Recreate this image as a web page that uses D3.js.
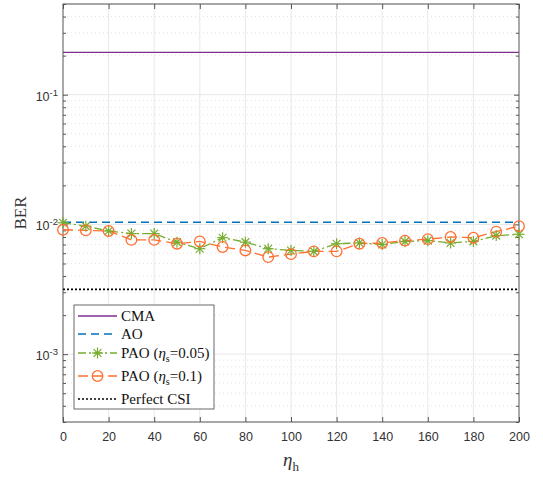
<!DOCTYPE html>
<html><head><meta charset="utf-8">
<script src="https://cdn.jsdelivr.net/npm/d3@7"></script>
<style>body{margin:0;background:#fff}svg{display:block}</style>
</head><body>
<svg id="c" width="543" height="483"></svg>
<script>
const etaH = [0,10,20,30,40,50,60,70,80,90,100,110,120,130,140,150,160,170,180,190,200];
const cma = 0.212;
const ao = 0.0104;
const perfectCSI = 0.00316;
const pao005 = [0.0103,0.0097,0.0089,0.0085,0.0085,0.0073,0.0065,0.0079,0.0073,0.0065,0.0063,0.0062,0.0071,0.0072,0.0070,0.0074,0.0075,0.0072,0.0074,0.0082,0.0084];
const pao01 = [0.0091,0.0090,0.0089,0.0076,0.0076,0.0071,0.0074,0.0067,0.0063,0.0056,0.0059,0.0062,0.0062,0.0071,0.0072,0.0075,0.0077,0.0080,0.0079,0.0088,0.0097];
const xTicks = [0,20,40,60,80,100,120,140,160,180,200];
const yTickExp = [-1,-2,-3];

const svg = d3.select("#c");
const L=63,R=519,T=4,B=422;
const x = d3.scaleLinear().domain([0,200]).range([L,R]);
const y = d3.scaleLog().domain([3e-4,0.5]).range([B,T]);
const axisCol="#555", gridCol="#e8e8e8";
const purple="#7E2F8E", blue="#0072BD", green="#77AC30", orange="#FF6F30";

// minor grid
const minors=[];
[1e-4,1e-3,1e-2,1e-1].forEach(d=>{for(let k=2;k<=9;k++){const v=d*k; if(v>=3e-4&&v<=0.5) minors.push(v);}});
svg.append("g").selectAll("line").data(minors).join("line")
  .attr("x1",L).attr("x2",R).attr("y1",d=>y(d)).attr("y2",d=>y(d))
  .attr("stroke","#dcdcdc").attr("stroke-width",0.8).attr("stroke-dasharray","1,3");
// major grid
svg.append("g").selectAll("line").data(yTickExp).join("line")
  .attr("x1",L).attr("x2",R).attr("y1",d=>y(Math.pow(10,d))).attr("y2",d=>y(Math.pow(10,d)))
  .attr("stroke",gridCol).attr("stroke-width",1);
svg.append("g").selectAll("line").data(xTicks.slice(1,-1)).join("line")
  .attr("x1",d=>x(d)).attr("x2",d=>x(d)).attr("y1",T).attr("y2",B)
  .attr("stroke",gridCol).attr("stroke-width",1);

// axes
const xa = svg.append("g").attr("transform",`translate(0,${B})`)
  .call(d3.axisBottom(x).tickValues(xTicks).tickSizeInner(-5).tickSizeOuter(0).tickPadding(10));
const xt = svg.append("g").attr("transform",`translate(0,${T})`)
  .call(d3.axisTop(x).tickValues(xTicks).tickSizeInner(-5).tickSizeOuter(0).tickFormat(""));
const ya = svg.append("g").attr("transform",`translate(${L},0)`)
  .call(d3.axisLeft(y).tickValues(yTickExp.map(e=>Math.pow(10,e))).tickSizeInner(-5).tickSizeOuter(0).tickFormat(""));
const yr = svg.append("g").attr("transform",`translate(${R},0)`)
  .call(d3.axisRight(y).tickValues(yTickExp.map(e=>Math.pow(10,e))).tickSizeInner(-5).tickSizeOuter(0).tickFormat(""));
const yam = svg.append("g").attr("transform",`translate(${L},0)`)
  .call(d3.axisLeft(y).tickValues(minors).tickSizeInner(-3).tickSizeOuter(0).tickFormat(""));
const yrm = svg.append("g").attr("transform",`translate(${R},0)`)
  .call(d3.axisRight(y).tickValues(minors).tickSizeInner(-3).tickSizeOuter(0).tickFormat(""));
[xa,xt,ya,yr,yam,yrm].forEach(g=>{g.select(".domain").remove();g.selectAll("line").attr("stroke",axisCol);});
xa.selectAll("text").attr("font-family","Liberation Sans, Arial, sans-serif").attr("font-size",12.5).attr("fill","#333");
svg.append("rect").attr("x",L).attr("y",T).attr("width",R-L).attr("height",B-T)
  .attr("fill","none").attr("stroke",axisCol).attr("stroke-width",1);

// y tick labels
const yl = svg.append("g").selectAll("text").data(yTickExp).join("text")
  .attr("x",L-5).attr("y",d=>y(Math.pow(10,d))+6).attr("text-anchor","end")
  .attr("font-family","Liberation Sans, Arial, sans-serif").attr("font-size",12.5).attr("fill","#333");
yl.append("tspan").text("10");
yl.append("tspan").attr("dy",-5).attr("font-size",9.5).text(d=>"-"+Math.abs(d));

// lines
const line = d3.line().x((d,i)=>x(etaH[i])).y(d=>y(d));
svg.append("line").attr("x1",x(0)).attr("x2",x(200)).attr("y1",y(cma)).attr("y2",y(cma))
  .attr("stroke",purple).attr("stroke-width",1.4);
svg.append("line").attr("x1",x(0)).attr("x2",x(200)).attr("y1",y(ao)).attr("y2",y(ao))
  .attr("stroke",blue).attr("stroke-width",1.4).attr("stroke-dasharray","8,5");
svg.append("line").attr("x1",x(0)).attr("x2",x(200)).attr("y1",y(perfectCSI)).attr("y2",y(perfectCSI))
  .attr("stroke","#000").attr("stroke-width",1.6).attr("stroke-dasharray","2,2");
svg.append("path").attr("d",line(pao005)).attr("fill","none").attr("stroke",green).attr("stroke-width",1.3)
  .attr("stroke-dasharray","8,3,2,3");
svg.append("path").attr("d",line(pao01)).attr("fill","none").attr("stroke",orange).attr("stroke-width",1.3)
  .attr("stroke-dasharray","10,5");

function star(g,cx,cy,r,col){
  for(let a=0;a<4;a++){const t=a*Math.PI/4;
    g.append("line").attr("x1",cx-r*Math.cos(t)).attr("x2",cx+r*Math.cos(t))
     .attr("y1",cy-r*Math.sin(t)).attr("y2",cy+r*Math.sin(t)).attr("stroke",col).attr("stroke-width",1.2);}
}
const mg = svg.append("g");
pao005.forEach((v,i)=>star(mg,x(etaH[i]),y(v),5.5,green));
svg.append("g").selectAll("circle").data(pao01).join("circle")
  .attr("cx",(d,i)=>x(etaH[i])).attr("cy",d=>y(d)).attr("r",5.3)
  .attr("fill","none").attr("stroke",orange).attr("stroke-width",1.3);

// legend
const lg = svg.append("g");
lg.append("rect").attr("x",74).attr("y",305).attr("width",140).attr("height",104)
  .attr("fill","#fff").attr("stroke","#444").attr("stroke-width",0.8);
const items=[
  {n:"CMA",c:purple,d:null,m:null,yy:316},
  {n:"AO",c:blue,d:"8,5",m:null,yy:334},
  {n:"PAO005",c:green,d:"8,3,2,3",m:"star",yy:353},
  {n:"PAO01",c:orange,d:"10,5",m:"circ",yy:376},
  {n:"Perfect CSI",c:"#000",d:"2,2",m:null,yy:399}];
items.forEach(it=>{
  lg.append("line").attr("x1",78).attr("x2",117).attr("y1",it.yy).attr("y2",it.yy)
    .attr("stroke",it.c).attr("stroke-width",it.n==="Perfect CSI"?1.6:1.3).attr("stroke-dasharray",it.d);
  if(it.m==="star") star(lg,97.5,it.yy,5.5,green);
  if(it.m==="circ") lg.append("circle").attr("cx",97.5).attr("cy",it.yy).attr("r",5.3).attr("fill","none").attr("stroke",orange).attr("stroke-width",1.3);
  const t=lg.append("text").attr("x",121).attr("y",it.yy+5).attr("font-family","Liberation Serif, Times New Roman, serif")
    .attr("font-size",15).attr("fill","#111");
  if(it.n==="PAO005"||it.n==="PAO01"){
    t.append("tspan").text("PAO (");
    t.append("tspan").attr("font-style","italic").text("η");
    t.append("tspan").attr("dy",4).attr("font-size",10).text("s");
    t.append("tspan").attr("dy",-4).text(it.n==="PAO005"?"=0.05)":"=0.1)");
  } else t.text(it.n);
});

// axis labels
svg.append("text").attr("transform","translate(26,213) rotate(-90)").attr("text-anchor","middle")
  .attr("font-family","Liberation Serif, Times New Roman, serif").attr("font-size",17).attr("fill","#333").text("BER");
const xl = svg.append("text").attr("x",291).attr("y",466).attr("text-anchor","middle")
  .attr("font-family","Liberation Serif, Times New Roman, serif").attr("font-size",19).attr("fill","#333");
xl.append("tspan").attr("font-style","italic").text("η");
xl.append("tspan").attr("dy",5).attr("font-size",13).text("h");
</script>
</body></html>
